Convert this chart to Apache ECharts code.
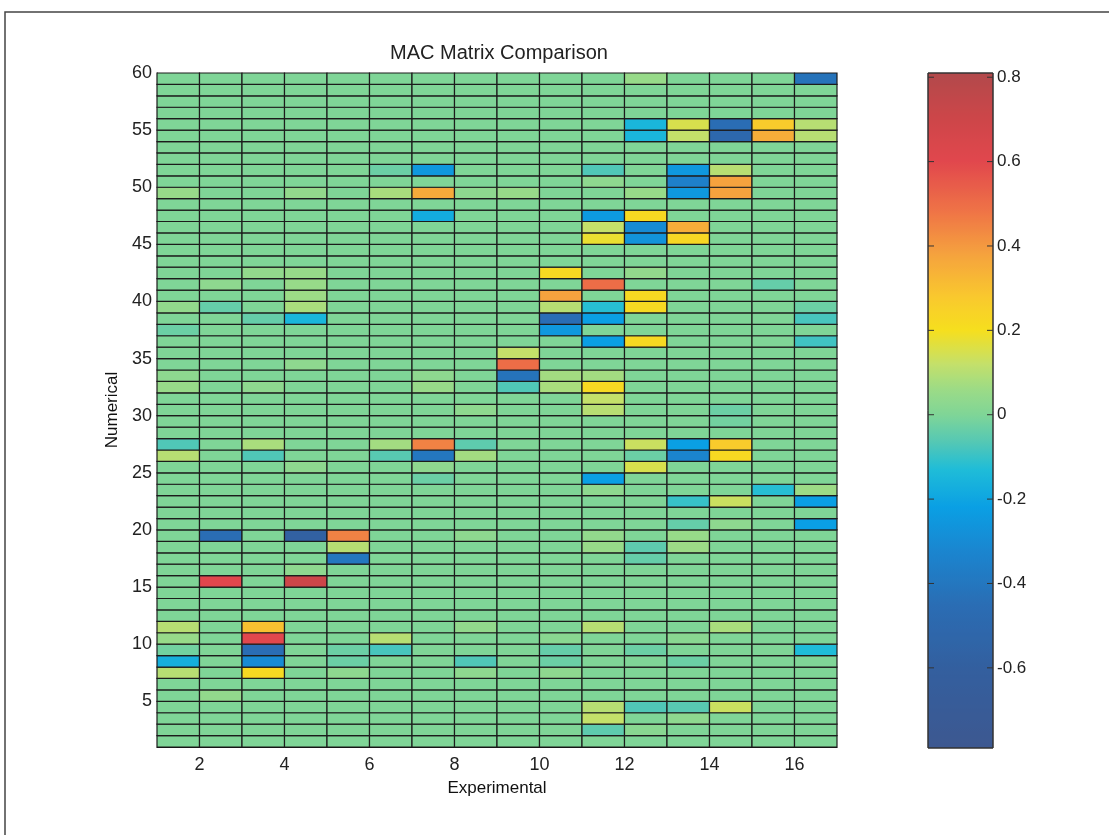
<!DOCTYPE html>
<html>
<head>
<meta charset="utf-8">
<script src="https://cdn.jsdelivr.net/npm/echarts@6/dist/echarts.min.js"></script>
<style>
html,body{margin:0;padding:0;background:#ffffff;}
#chart{width:1109px;height:835px;}
</style>
</head>
<body>
<div id="chart"></div>
<script>
// ---- data ----
const titleText = 'MAC Matrix Comparison';
const xName = 'Experimental';
const yName = 'Numerical';
const experimentalModes = [1,2,3,4,5,6,7,8,9,10,11,12,13,14,15,16];
const xTickLabels = [2,4,6,8,10,12,14,16];
const yTickLabels = [5,10,15,20,25,30,35,40,45,50,55,60];
const colorbarTicks = [-0.6,-0.4,-0.2,0,0.2,0.4,0.6,0.8];
const colorMin = -0.79;
const colorMax = 0.81;
// mac[r] = row for numerical mode r+1, 16 values (experimental modes 1..16)
const mac = [
/* 1*/ [0,0,0,0,0,0,0,0,0,0,0,0,0,0,0,0],
/* 2*/ [0,0,0,0,0,0,0,0,0,0,-0.05,0.02,0,0,0,0],
/* 3*/ [0,0,0,0,0,0,0,0,0,0,0.12,0,0.03,0,0,0],
/* 4*/ [0,0,0,0,0,0,0,0,0,0,0.1,-0.07,-0.06,0.13,0,0],
/* 5*/ [0,0.04,0,0,0,0,0,0,0,0,0,0,0,0,0,0],
/* 6*/ [0,0,0,0,0,0,0,0,0,0,0,0,0,0,0,0],
/* 7*/ [0.1,0,0.22,0,0.03,0,0,0.03,0,0.03,0,0,0,0,0,0],
/* 8*/ [-0.17,0,-0.3,0,-0.03,0,0,-0.07,0,-0.03,0,0,-0.03,0,0,0],
/* 9*/ [-0.02,0,-0.45,0,-0.03,-0.08,0,0,0,-0.04,0,-0.03,0,0,0,-0.13],
/*10*/ [0.05,0,0.6,0,0,0.1,0,0,0,0.02,0,0,0.02,0,0,0],
/*11*/ [0.1,0,0.3,0,0,0,0,0.04,0,0,0.1,0,0,0.08,0,0],
/*12*/ [0,0,0,0,0,0,0,0,0,0,0,0,0,0,0,0],
/*13*/ [0,0,0,0,0,0,0,0,0,0,0,0,0,0,0,0],
/*14*/ [0,0,0,0,0,0,0,0,0,0,0,0,0,0,0,0],
/*15*/ [0,0.6,0,0.7,0,0,0,0,0,0,0,0,0,0,0,0],
/*16*/ [0,0,0,0.03,0,0,0,0,0,0,0,0,0,0,0,0],
/*17*/ [0,0,0,0,-0.4,0,0,0,0,0,0,-0.04,0,0,0,0],
/*18*/ [0,0,0,0,0.1,0,0,0,0,0,0.05,-0.05,0.06,0,0,0],
/*19*/ [0,-0.45,0,-0.58,0.45,0,0,0.03,0,0,0.04,0,0.05,0,0,0],
/*20*/ [0,0,0,0,0,0,0,0,0,0,0,0,-0.04,0.03,0,-0.22],
/*21*/ [0,0,0,0,0,0,0,0,0,0,0,0,0,0,0,0],
/*22*/ [0,0,0,0,0,0,0,0,0,0,0,0,-0.1,0.13,0,-0.22],
/*23*/ [0,0,0,0,0,0,0,0,0,0,0.03,0,0,0,-0.12,0.06],
/*24*/ [0,0,0,0,0,0,-0.03,0,0,0,-0.22,0,0,0,0,0],
/*25*/ [0,0,0,0.03,0,0,0.03,0,0,0,0,0.15,0,0,0,0],
/*26*/ [0.1,0,-0.07,0,0,-0.06,-0.4,0.07,0,0,0,-0.03,-0.33,0.22,0,0],
/*27*/ [-0.07,0,0.08,0,0,0.07,0.45,-0.05,0,0,0,0.13,-0.22,0.27,0,0],
/*28*/ [0,0,0,0,0,0,0,0,0,0,0,0,0,0,0,0],
/*29*/ [0,0,0,0,0,0,0,0,0,0,0,0,0,-0.02,0,0],
/*30*/ [0,0,0,0,0,0,0,0.03,0,0,0.1,0,0,-0.03,0,0],
/*31*/ [0,0,0,0,0,0,0,0,0,0,0.12,0,0,0,0,0],
/*32*/ [0.05,0,0.03,0,0,0,0.05,0,-0.07,0.08,0.22,0,0,0,0,0],
/*33*/ [0.03,0,0,0,0,0,0.03,0,-0.42,0.07,0.07,0,0,0,0,0],
/*34*/ [0,0,0,0.03,0,0,0,0,0.5,0,0,0,0,0,0,0],
/*35*/ [0,0,0,0,0,0,0,0,0.12,0,0,0,0,0,0,0],
/*36*/ [0,0,0,0,0,0,0,0,0,0,-0.22,0.22,0,0,0,-0.09],
/*37*/ [-0.03,0,0,0,0,0,0,0,0,-0.25,0,0,0,0,0,0],
/*38*/ [0,0,-0.04,-0.15,0,0,0,0,0,-0.45,-0.22,0,0,0,0,-0.08],
/*39*/ [0.04,-0.04,0,0.08,0,0,0,0,0,0.1,-0.12,0.22,0,0,0,-0.03],
/*40*/ [0,0,0,0.06,0,0,0,0,0,0.38,0,0.22,0,0,0,0],
/*41*/ [0,0.03,0,0.05,0,0,0,0,0,0,0.5,0,0,0,-0.04,0],
/*42*/ [0,0,0.04,0.05,0,0,0,0,0,0.22,0,0.04,0,0,0,0],
/*43*/ [0,0,0,0,0,0,0,0,0,0,0,0,0,0,0,0],
/*44*/ [0,0,0,0,0,0,0,0,0,0,0,0,0,0,0,0],
/*45*/ [0,0,0,0,0,0,0,0,0,0,0.18,-0.27,0.23,0,0,0],
/*46*/ [0,0,0,0,0,0,0,0,0,0,0.12,-0.3,0.35,0,0,0],
/*47*/ [0,0,0,0,0,0,-0.18,0,0,0,-0.24,0.22,0,0,0,0],
/*48*/ [0,0,0,0,0,0,0,0,0,0,0,0,0,0,0,0],
/*49*/ [0.05,0,0,0.04,0,0.08,0.36,0.03,0.05,0,0,0.05,-0.25,0.38,0,0],
/*50*/ [0,0,0,0,0,0,0,0,0,0,0.03,0,-0.35,0.38,0,0],
/*51*/ [0,0,0,0,0,-0.03,-0.25,0,0,0,-0.07,0,-0.25,0.1,0,0],
/*52*/ [0,0,0,0,0,0,0,0,0,0,0,0,0,0,0,0],
/*53*/ [0,0,0,0,0,0,0,0,0,0,0,0,0,0,0,0],
/*54*/ [0,0,0,0,0,0,0,0,0,0,0,-0.15,0.12,-0.5,0.35,0.1],
/*55*/ [0,0,0,0,0,0,0,0,0,0,0,-0.15,0.15,-0.45,0.27,0.1],
/*56*/ [0,0,0,0,0,0,0,0,0,0,0,0,0,0,0,0],
/*57*/ [0,0,0,0,0,0,0,0,0,0,0,0,0,0,0,0],
/*58*/ [0,0,0,0,0,0,0,0,0,0,0,0,0,0,0,0],
/*59*/ [0,0,0,0,0,0,0,0,0,0,0,0.05,0,0,0,-0.42]
];

// ---- colormap (washed jet, as scanned) ----
const cmapStops = [
  [-0.79,'#3d5890'],[-0.6,'#335f9f'],[-0.45,'#2a6db4'],[-0.32,'#1a86d0'],
  [-0.22,'#0a9fe4'],[-0.13,'#1fbcd8'],[-0.06,'#58c9b2'],[0.0,'#7fd597'],
  [0.06,'#9cdb86'],[0.12,'#c4e06a'],[0.2,'#f6df1e'],[0.28,'#f9c82e'],
  [0.38,'#f5a23e'],[0.48,'#ef7446'],[0.6,'#e1474d'],[0.7,'#cd4649'],[0.81,'#b2494b']
];
function hex2rgb(h){return [parseInt(h.substr(1,2),16),parseInt(h.substr(3,2),16),parseInt(h.substr(5,2),16)];}
function cmap(v){
  if(v<=cmapStops[0][0]) return cmapStops[0][1];
  for(let i=1;i<cmapStops.length;i++){
    if(v<=cmapStops[i][0]){
      const a=cmapStops[i-1],b=cmapStops[i];
      const t=(v-a[0])/(b[0]-a[0]);
      const ca=hex2rgb(a[1]),cb=hex2rgb(b[1]);
      return 'rgb('+ca.map((c,k)=>Math.round(c+(cb[k]-c)*t)).join(',')+')';
    }
  }
  return cmapStops[cmapStops.length-1][1];
}
const N = 161;
const palette = [];
for(let i=0;i<N;i++){ palette.push(cmap(colorMin+(colorMax-colorMin)*i/(N-1))); }

// ---- build heatmap data ----
const cells = [];
mac.forEach((row, r) => {
  row.forEach((v, c) => { cells.push([experimentalModes[c], r+1, v]); });
});

const plot = {left:157, top:73, width:680, height:674};
const cbar = {left:928, top:73, width:65, height:675};
const FONT = 'Liberation Sans, Arial, sans-serif';

const chart = echarts.init(document.getElementById('chart'), null, {renderer:'canvas'});
// gradient top (max) -> bottom (min)
const gradStops = palette.map((c,i)=>({offset:1-i/(N-1), color:c})).reverse();

const baseGraphic = [
  {type:'rect', shape:{x:5, y:12, width:1200, height:900}, style:{fill:'none', stroke:'#444', lineWidth:1.5}, silent:true, z:-10},
  {type:'text', x:499, y:53, style:{text:titleText, textAlign:'center', textVerticalAlign:'middle', font:'20px '+FONT, fill:'#222'}},
  {type:'rect', shape:{x:cbar.left, y:cbar.top, width:cbar.width, height:cbar.height},
   style:{fill:{type:'linear', x:0, y:0, x2:0, y2:1, colorStops:gradStops}, stroke:'#333', lineWidth:1}}
];

chart.setOption({
  animation:false,
  backgroundColor:'#ffffff',
  grid:[
    {left:plot.left, top:plot.top, width:plot.width, height:plot.height, show:false},
    {left:cbar.left, top:cbar.top, width:cbar.width, height:cbar.height, show:false}
  ],
  xAxis:[
    {type:'value', gridIndex:0, min:1, max:17, name:xName, nameLocation:'middle', nameGap:33,
     nameTextStyle:{fontFamily:FONT, fontSize:17, color:'#111'},
     axisLine:{show:true, lineStyle:{color:'#111', width:1}},
     axisTick:{show:false, customValues:xTickLabels},
     axisLabel:{customValues:xTickLabels, margin:9, fontFamily:FONT, fontSize:18, color:'#222'},
     splitLine:{show:false}},
    {type:'value', gridIndex:1, min:0, max:1, show:false}
  ],
  yAxis:[
    {type:'value', gridIndex:0, min:1, max:60, name:yName, nameLocation:'middle', nameGap:31,
     nameTextStyle:{fontFamily:FONT, fontSize:17, color:'#111'},
     axisLine:{show:true, lineStyle:{color:'#111', width:1}},
     axisTick:{show:false, customValues:yTickLabels},
     axisLabel:{customValues:yTickLabels, margin:5, fontFamily:FONT, fontSize:18, color:'#222'},
     splitLine:{show:false}},
    {type:'value', gridIndex:1, position:'right', min:colorMin, max:colorMax,
     axisLine:{show:false},
     axisTick:{show:false, customValues:colorbarTicks},
     axisLabel:{customValues:colorbarTicks, margin:4, fontFamily:FONT, fontSize:17, color:'#222',
       formatter:(v)=>String(Math.round(v*10)/10)},
     splitLine:{show:false}}
  ],
  visualMap:{show:false, type:'continuous', min:colorMin, max:colorMax, dimension:2, seriesIndex:0,
    inRange:{color:palette}},
  graphic:baseGraphic,
  series:[
    {type:'custom', xAxisIndex:0, yAxisIndex:0, data:cells, encode:{x:0, y:1},
     renderItem:function(params, api){
       const x=api.value(0), y=api.value(1);
       const p0=api.coord([x, y+1]);
       const p1=api.coord([x+1, y]);
       return {type:'rect', shape:{x:p0[0], y:p0[1], width:p1[0]-p0[0], height:p1[1]-p0[1]},
         style:{fill:api.visual('color'), stroke:'#1c1c1c', lineWidth:1.2}};
     }}
  ]
});

// colorbar tick marks (inside, both edges), positioned by the colorbar axis scale
const tickMarks = colorbarTicks.map(v => {
  const y = chart.convertToPixel({yAxisIndex:1}, v);
  return [
    {type:'line', shape:{x1:cbar.left, y1:y, x2:cbar.left+6, y2:y}, style:{stroke:'#333', lineWidth:1}, z:10},
    {type:'line', shape:{x1:cbar.left+cbar.width-6, y1:y, x2:cbar.left+cbar.width, y2:y}, style:{stroke:'#333', lineWidth:1}, z:10}
  ];
}).flat();
chart.setOption({graphic: baseGraphic.concat(tickMarks)});
</script>
</body>
</html>
